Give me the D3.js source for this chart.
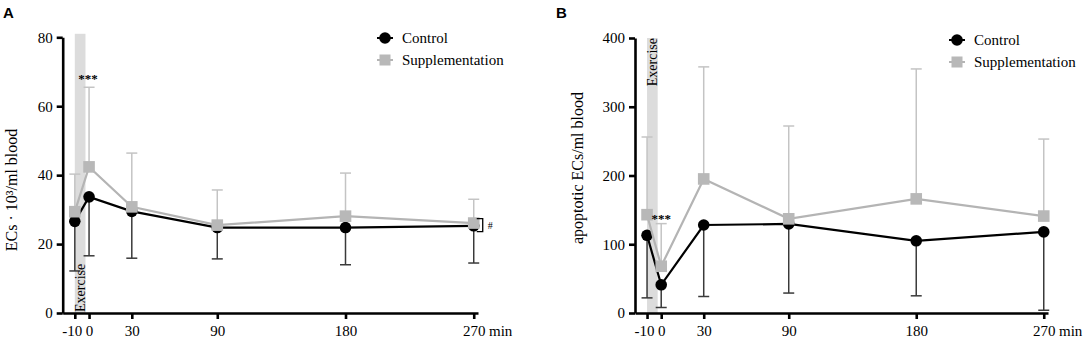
<!DOCTYPE html>
<html lang="en">
<head>
<meta charset="UTF-8">
<title>ECs after exercise</title>
<style>
  body { margin: 0; background: #fff; }
  text { font-family: "Liberation Serif", "Times New Roman", serif; fill: #000; }
  .axis path, .axis line { stroke: #000; stroke-width: 2.6; }
  .letter { font-family: "Liberation Sans", Arial, sans-serif; font-weight: bold; font-size: 15px; }
</style>
<script src="https://cdn.jsdelivr.net/npm/d3@7"></script>
</head>
<body>
<div id="chart"></div>
<script>
// time points (min)
const times = [-10, 0, 30, 90, 180, 270]
const exercise = [-10, -2.5]

// panel A: ECs x 10^3/ml blood
const ecsControl = [26.6, 33.7, 29.5, 24.8, 24.8, 25.3]
const ecsControlLow = [12.2, 16.6, 15.9, 15.7, 14, 14.5]
const ecsSupp = [29.4, 42.4, 30.8, 25.5, 28.1, 26.1]
const ecsSuppHigh = [40.3, 65.5, 46.4, 35.7, 40.6, 33]
const ecsTicks = [0, 20, 40, 60, 80]

// panel B: apoptotic ECs/ml blood
const apoControl = [113, 41, 128, 129.5, 105, 118]
const apoControlLow = [22, 8, 24, 29, 25, 4]
const apoSupp = [143, 68, 195, 137, 166, 141]
const apoSuppHigh = [256, 130, 358, 272, 355, 253]
const apoTicks = [0, 100, 200, 300, 400]

const seriesNames = ['Control', 'Supplementation']

const svg = d3.select('#chart').append('svg')
  .attr('width', 1084)
  .attr('height', 339)

function styleAxis(sel) {
  sel.attr('font-family', '"Liberation Serif", serif').attr('font-size', 15)
  sel.selectAll('text')
    .attr('font-family', '"Liberation Serif", serif')
    .attr('font-size', 15)
    .attr('fill', '#000')
}

function drawPanel(p) {
  const x = d3.scaleLinear().domain([-18.5, 273]).range([p.left, p.right])
  const y = d3.scaleLinear().domain([0, p.yMax]).range([313, p.top])
  const g = svg.append('g')

  // exercise band
  g.append('rect')
    .attr('x', x(exercise[0]))
    .attr('width', x(exercise[1]) - x(exercise[0]))
    .attr('y', p.top - p.bandOver)
    .attr('height', 313 - p.top + p.bandOver)
    .attr('fill', '#dcdcdc')

  g.append('text')
    .attr('font-size', 14)
    .attr('text-anchor', p.exAnchor)
    .attr('transform', `translate(${x(exercise[1]) - 0.5},${p.exY}) rotate(-90)`)
    .text('Exercise')

  // axes
  const xa = g.append('g').attr('class', 'axis')
    .attr('transform', 'translate(0,313)')
    .call(d3.axisBottom(x).tickValues(times).tickSize(6).tickSizeOuter(0).tickPadding(6).tickFormat(d => String(d)))
    .call(styleAxis)
  xa.selectAll('.tick text').filter(d => d < 0).attr('dx', -3)
  g.append('g').attr('class', 'axis')
    .attr('transform', `translate(${p.left},0)`)
    .call(d3.axisLeft(y).tickValues(p.yTicks).tickSize(6).tickSizeOuter(0).tickPadding(4))
    .call(styleAxis)

  g.append('text')
    .attr('x', p.right + 11).attr('y', 335.5)
    .attr('font-size', 15)
    .text('min')

  g.append('text')
    .attr('transform', `translate(${p.titleX},${p.titleY}) rotate(-90)`)
    .attr('text-anchor', 'middle')
    .attr('font-size', 16)
    .text(p.yTitle)

  g.append('text').attr('class', 'letter')
    .attr('x', p.letterX).attr('y', 18)
    .text(p.letter)

  // error bars
  const cap = 5.5
  const bars = [
    { vals: p.control, ends: p.controlLow, color: '#3a3a3a' },
    { vals: p.supp, ends: p.suppHigh, color: '#c4c4c4' }
  ]
  bars.forEach(b => {
    const eg = g.append('g').attr('stroke', b.color).attr('stroke-width', 1.5)
    eg.selectAll('line.v').data(times).join('line')
      .attr('x1', d => x(d)).attr('x2', d => x(d))
      .attr('y1', (d, i) => y(b.vals[i])).attr('y2', (d, i) => y(b.ends[i]))
    eg.selectAll('line.c').data(times).join('line')
      .attr('x1', d => x(d) - cap).attr('x2', d => x(d) + cap)
      .attr('y1', (d, i) => y(b.ends[i])).attr('y2', (d, i) => y(b.ends[i]))
  })

  const line = vals => d3.line().x(d => x(d)).y((d, i) => y(vals[i]))(times)

  // control
  g.append('path').attr('d', line(p.control))
    .attr('fill', 'none').attr('stroke', '#000').attr('stroke-width', 2.2)
  g.selectAll('circle.ctl').data(times).join('circle')
    .attr('cx', d => x(d)).attr('cy', (d, i) => y(p.control[i]))
    .attr('r', 5.8).attr('fill', '#000')

  // supplementation
  g.append('path').attr('d', line(p.supp))
    .attr('fill', 'none').attr('stroke', '#b4b4b4').attr('stroke-width', 2.2)
  g.selectAll('rect.sup').data(times).join('rect')
    .attr('x', d => x(d) - 5.8).attr('y', (d, i) => y(p.supp[i]) - 5.8)
    .attr('width', 11.6).attr('height', 11.6).attr('fill', '#b8b8b8')

  // significance
  g.append('text')
    .attr('x', x(0) + p.starDx).attr('y', p.starY)
    .attr('text-anchor', 'middle')
    .attr('font-size', 13).attr('font-weight', 'bold')
    .text('***')

  // legend
  seriesNames.forEach((name, i) => {
    const ly = p.legendY + i * 22
    const lg = g.append('g').attr('transform', `translate(${p.legendX},${ly})`)
    lg.append('line').attr('x1', -8).attr('x2', 8)
      .attr('stroke', i ? '#b4b4b4' : '#000').attr('stroke-width', 2)
    if (i) lg.append('rect').attr('x', -5.5).attr('y', -5.5).attr('width', 11).attr('height', 11).attr('fill', '#b8b8b8')
    else lg.append('circle').attr('r', 5.8).attr('fill', '#000')
    lg.append('text').attr('x', 17).attr('y', 5).attr('font-size', 15).text(name)
  })

  return { x, y, g }
}

const a = drawPanel({
  letter: 'A', letterX: 3, left: 62.7, right: 478, top: 37.3, yMax: 80, yTicks: ecsTicks,
  yTitle: 'ECs · 10³/ml blood', titleX: 17, titleY: 190,
  control: ecsControl, controlLow: ecsControlLow, supp: ecsSupp, suppHigh: ecsSuppHigh,
  bandOver: 3.5, exAnchor: 'start', exY: 312,
  starDx: -1, starY: 83, legendX: 385, legendY: 38
})

// "#" bracket at the last time point
const bx = a.x(270) + 3
a.g.append('path')
  .attr('d', `M${bx},${a.y(27.4)}H${bx + 6}V${a.y(23.6)}H${bx}`)
  .attr('fill', 'none').attr('stroke', '#000').attr('stroke-width', 1.3)
a.g.append('text')
  .attr('x', bx + 11).attr('y', a.y(25.5) + 3.5)
  .attr('font-size', 10).text('#')

drawPanel({
  letter: 'B', letterX: 556, left: 635, right: 1048, top: 38, yMax: 400, yTicks: apoTicks,
  yTitle: 'apoptotic ECs/ml blood', titleX: 583, titleY: 168,
  control: apoControl, controlLow: apoControlLow, supp: apoSupp, suppHigh: apoSuppHigh,
  bandOver: 0, exAnchor: 'end', exY: 38,
  starDx: 0, starY: 223, legendX: 957, legendY: 40
})
</script>
</body>
</html>
